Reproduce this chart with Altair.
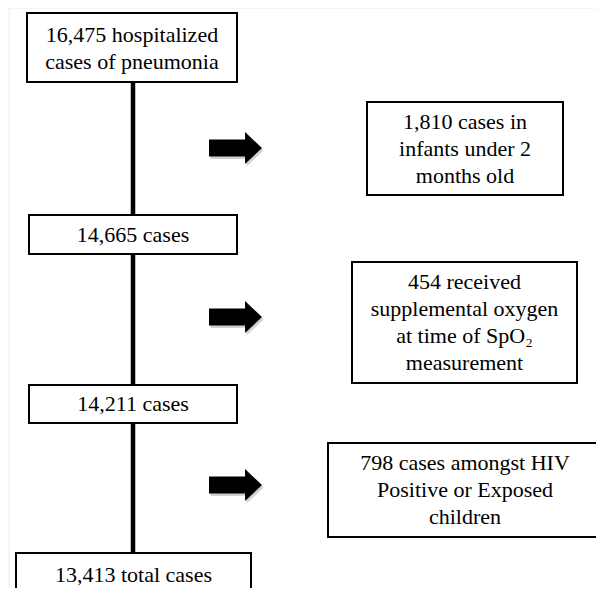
import altair as alt
import pandas as pd

# ---- content ----
main_labels = ["16,475 hospitalized\ncases of pneumonia", "14,665 cases", "14,211 cases", "13,413 total cases"]
excl_labels = ["1,810 cases in\ninfants under 2\nmonths old",
               "454 received\nsupplemental oxygen\nat time of SpO\u2082\nmeasurement",
               "798 cases amongst HIV\nPositive or Exposed\nchildren"]

# ---- layout (pixel coordinates of the figure) ----
main_x0 = [27, 29, 29, 16]
main_x1 = [237, 237, 237, 251]
main_y0 = [13, 215, 385, 553]
main_y1 = [82, 254, 423, 600]
main_ty = [48, 234.5, 404, 575]

excl_x0 = [367, 352, 328]
excl_x1 = [563, 577, 602]
excl_y0 = [102, 262, 443]
excl_y1 = [195, 383, 537]
arrow_y = [148, 317, 485]

spine_x = 133
line_h = 27
FONT = "Liberation Serif"

boxes = pd.DataFrame({
    "x0": main_x0 + excl_x0, "x1": main_x1 + excl_x1,
    "y0": main_y0 + excl_y0, "y1": main_y1 + excl_y1,
})
centers_x = [(a + b) / 2 for a, b in zip(main_x0, main_x1)] + [(a + b) / 2 for a, b in zip(excl_x0, excl_x1)]
centers_y = main_ty + [(a + b) / 2 for a, b in zip(excl_y0, excl_y1)]
rows = []
for lab, cx, cy in zip(main_labels + excl_labels, centers_x, centers_y):
    parts = lab.split("\n")
    n = len(parts)
    for i, p in enumerate(parts):
        rows.append({"label": p, "x": cx, "y": cy + (i - (n - 1) / 2) * line_h})
texts = pd.DataFrame(rows)
spines = pd.DataFrame({"x": [spine_x] * 3, "y0": main_y1[:3], "y1": main_y0[1:]})
arrows = pd.DataFrame({"x": [235.5] * 3, "y": arrow_y})

W, H = 588, 580
xs = alt.Scale(domain=[8, 8 + W])
ys = alt.Scale(domain=[8, 8 + H], reverse=True)

frame = pd.DataFrame({"x": [9], "y": [8]})
frame_v = alt.Chart(frame).mark_rule(color="#ececec", strokeWidth=1).encode(
    x=alt.X("x:Q", scale=xs, axis=None), y=alt.value(0), y2=alt.value(H))
frame_h = alt.Chart(frame).mark_rule(color="#ececec", strokeWidth=1).encode(
    y=alt.Y("y:Q", scale=ys, axis=None), x=alt.value(1), x2=alt.value(W))

spine = alt.Chart(spines).mark_rule(color="black", strokeWidth=4.5).encode(
    x=alt.X("x:Q", scale=xs, axis=None),
    y=alt.Y("y0:Q", scale=ys, axis=None), y2="y1:Q")

rects = alt.Chart(boxes).mark_rect(fill="white", stroke="black", strokeWidth=2).encode(
    x=alt.X("x0:Q", scale=xs, axis=None), x2="x1:Q",
    y=alt.Y("y0:Q", scale=ys, axis=None), y2="y1:Q")

arrow_path = "M -1 -0.32 L 0.36 -0.32 L 0.36 -0.6 L 1 0 L 0.36 0.6 L 0.36 0.32 L -1 0.32 Z"
shadow = alt.Chart(arrows).mark_point(shape=arrow_path, size=53 * 53, filled=True,
                                      color="#999999", opacity=0.45, xOffset=1.5, yOffset=2.5,
                                      strokeWidth=0).encode(
    x=alt.X("x:Q", scale=xs, axis=None), y=alt.Y("y:Q", scale=ys, axis=None))
arrow = alt.Chart(arrows).mark_point(shape=arrow_path, size=53 * 53, filled=True,
                                     color="black", opacity=1, strokeWidth=0).encode(
    x=alt.X("x:Q", scale=xs, axis=None), y=alt.Y("y:Q", scale=ys, axis=None))

label = alt.Chart(texts).mark_text(font=FONT, fontSize=22, align="center", baseline="middle",
                                   color="black").encode(
    x=alt.X("x:Q", scale=xs, axis=None), y=alt.Y("y:Q", scale=ys, axis=None), text="label:N")

chart = alt.layer(frame_v, frame_h, spine, rects, shadow, arrow, label).properties(
    width=W, height=H, padding=0, background="white",
    autosize=alt.AutoSizeParams(type="none")
).configure_view(stroke=None).configure_text(font=FONT)

chart.save("out.html", embed_options={"renderer": "svg", "actions": False})
